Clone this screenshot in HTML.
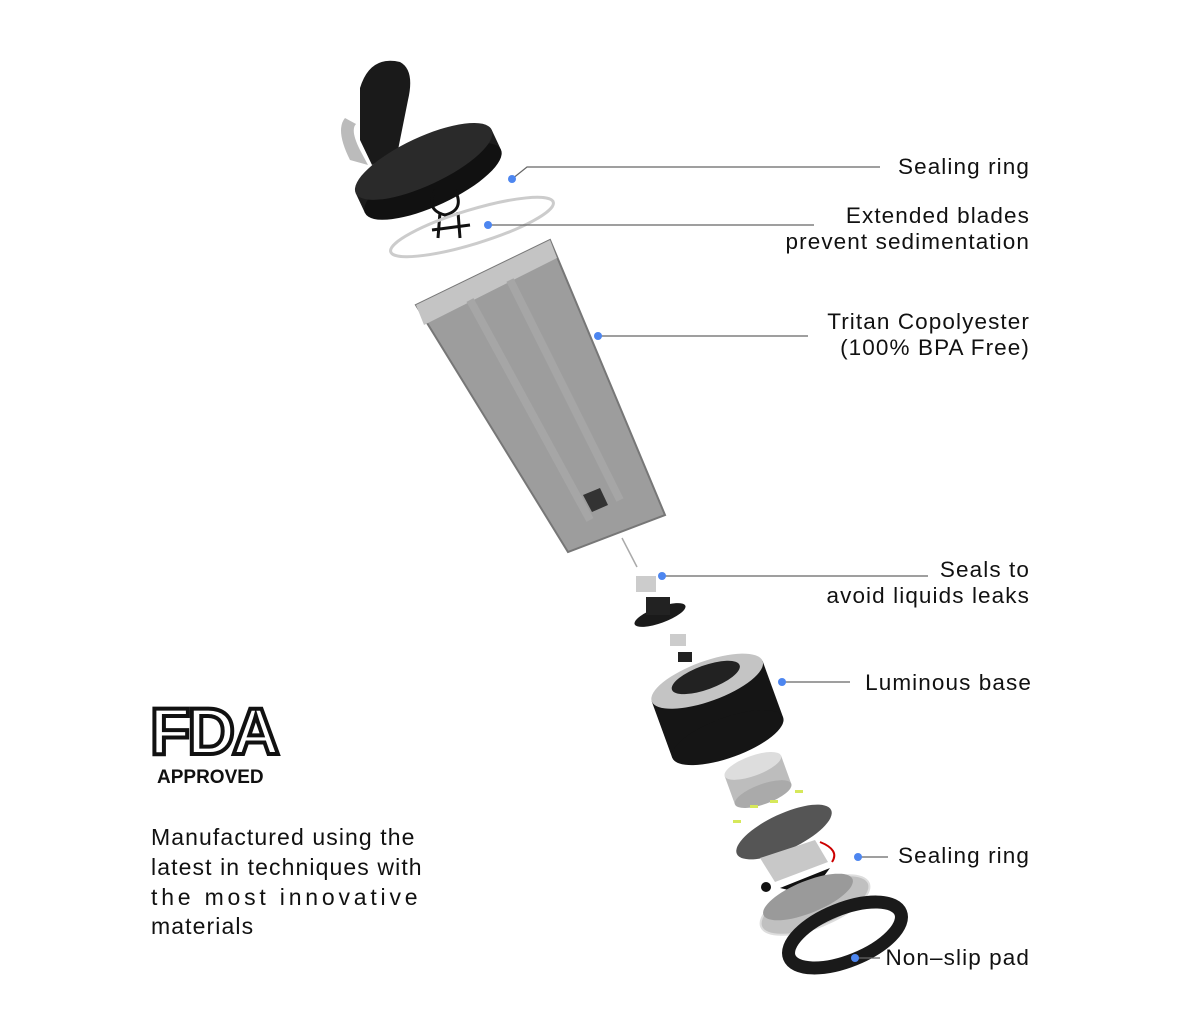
<!DOCTYPE html>
<html><head><style>
body{margin:0;background:#fff;width:1180px;height:1012px;overflow:hidden}
svg{display:block}
text{font-family:"Liberation Sans",sans-serif;fill:#111}
</style></head><body>
<svg width="1180" height="1012" viewBox="0 0 1180 1012">
<!-- lid -->
<path d="M345 118 Q335 130 350 160 L368 165 L360 150 Q350 130 356 124 Z" fill="#bbb"/>
<path d="M360 88 Q370 55 400 62 Q415 70 408 100 L398 150 L372 165 L360 140 Z" fill="#1a1a1a"/>
<g transform="rotate(-25 430 175)">
<rect x="355" y="160" width="150" height="22" fill="#1c1c1c"/>
<ellipse cx="430" cy="182" rx="75" ry="24" fill="#111"/>
<ellipse cx="430" cy="160" rx="75" ry="24" fill="#2a2a2a"/>
</g>
<path d="M435 190 Q425 210 445 215 Q465 210 455 190 M440 212 L438 238 M458 212 L460 238 M432 230 L470 225" stroke="#111" stroke-width="3" fill="none"/>
<ellipse cx="472" cy="227" rx="85" ry="17" transform="rotate(-17 472 227)" fill="none" stroke="#ccc" stroke-width="3"/>
<!-- cup -->
<polygon points="416,305 550,240 665,515 568,552" fill="#8c8c8c" fill-opacity="0.85" stroke="#777" stroke-width="2"/>
<polygon points="416,305 550,240 557,258 424,325" fill="#c4c4c4"/>
<path d="M470 300 L590 520 M510 280 L620 500" stroke="#a6a6a6" stroke-width="8" fill="none"/>
<polygon points="583,495 600,488 608,505 592,512" fill="#333"/>
<line x1="622" y1="538" x2="637" y2="567" stroke="#aaa" stroke-width="1.5"/>
<!-- small parts -->
<rect x="636" y="576" width="20" height="16" fill="#ccc"/>
<ellipse cx="660" cy="615" rx="27" ry="8" transform="rotate(-20 660 615)" fill="#1a1a1a"/>
<rect x="646" y="597" width="24" height="18" fill="#222"/>
<rect x="670" y="634" width="16" height="12" fill="#ccc"/>
<rect x="678" y="652" width="14" height="10" fill="#222"/>
<!-- base -->
<g transform="rotate(-20 714 700)">
<rect x="655" y="680" width="118" height="60" fill="#151515"/>
<ellipse cx="714" cy="740" rx="59" ry="20" fill="#151515"/>
<ellipse cx="714" cy="680" rx="59" ry="20" fill="#c4c4c4"/>
<ellipse cx="714" cy="676" rx="36" ry="12" fill="#222"/>
</g>
<!-- motor -->
<g transform="rotate(-20 758 780)">
<rect x="728" y="765" width="60" height="30" fill="#bdbdbd"/>
<ellipse cx="758" cy="795" rx="30" ry="10" fill="#aaa"/>
<ellipse cx="758" cy="765" rx="30" ry="10" fill="#ddd"/>
</g>
<ellipse cx="784" cy="832" rx="52" ry="18" transform="rotate(-25 784 832)" fill="#555"/>
<g fill="#d6e85a"><rect x="733" y="820" width="8" height="3"/><rect x="770" y="800" width="8" height="3"/><rect x="795" y="790" width="8" height="3"/><rect x="750" y="805" width="8" height="3"/></g>
<polygon points="760,858 815,840 828,862 775,882" fill="#c8c8c8"/>
<path d="M820 842 Q840 850 832 862" stroke="#c00" stroke-width="2" fill="none"/>
<polygon points="780,888 830,868 810,895" fill="#111"/>
<ellipse cx="815" cy="905" rx="58" ry="22" transform="rotate(-22 815 905)" fill="#c0c0c0" stroke="#ddd" stroke-width="2"/>
<ellipse cx="808" cy="897" rx="48" ry="16" transform="rotate(-22 808 897)" fill="#9a9a9a"/>
<ellipse cx="845" cy="935" rx="60" ry="26" transform="rotate(-22 845 935)" fill="none" stroke="#1a1a1a" stroke-width="13"/>
<ellipse cx="766" cy="887" rx="5" ry="5" fill="#111"/>
<!-- leader lines -->
<g stroke="#666" stroke-width="1.2" fill="none">
<polyline points="512,179 527,167 880,167"/>
<line x1="488" y1="225" x2="814" y2="225"/>
<line x1="598" y1="336" x2="808" y2="336"/>
<line x1="662" y1="576" x2="928" y2="576"/>
<line x1="782" y1="682" x2="850" y2="682"/>
<line x1="858" y1="857" x2="888" y2="857"/>
<line x1="855" y1="958" x2="880" y2="958"/>
</g>
<g fill="#4d86f0">
<circle cx="512" cy="179" r="4"/><circle cx="488" cy="225" r="4"/><circle cx="598" cy="336" r="4"/>
<circle cx="662" cy="576" r="4"/><circle cx="782" cy="682" r="4"/><circle cx="858" cy="857" r="4"/><circle cx="855" cy="958" r="4"/>
</g>
<g font-size="22.5" text-anchor="end" style="letter-spacing:1.1px">
<text x="1030" y="174">Sealing ring</text>
<text x="1030" y="223">Extended blades</text>
<text x="1030" y="249">prevent sedimentation</text>
<text x="1030" y="329">Tritan Copolyester</text>
<text x="1030" y="355">(100% BPA Free)</text>
<text x="1030" y="577">Seals to</text>
<text x="1030" y="603">avoid liquids leaks</text>
<text x="1032" y="690">Luminous base</text>
<text x="1030" y="863">Sealing ring</text>
<text x="1030" y="965">Non–slip pad</text>
</g>
<!-- FDA -->
<text x="150" y="754" font-size="66" font-weight="bold" style="letter-spacing:-3px;fill:#fff;stroke:#111;stroke-width:4">FDA</text>
<text x="157" y="783" font-size="19" font-weight="bold">APPROVED</text>
<g font-size="23" style="letter-spacing:1.1px">
<text x="151" y="845">Manufactured using the</text>
<text x="151" y="875">latest in techniques with</text>
<text x="151" y="905" style="letter-spacing:3.8px">the most innovative</text>
<text x="151" y="934">materials</text>
</g>
</svg>
</body></html>
